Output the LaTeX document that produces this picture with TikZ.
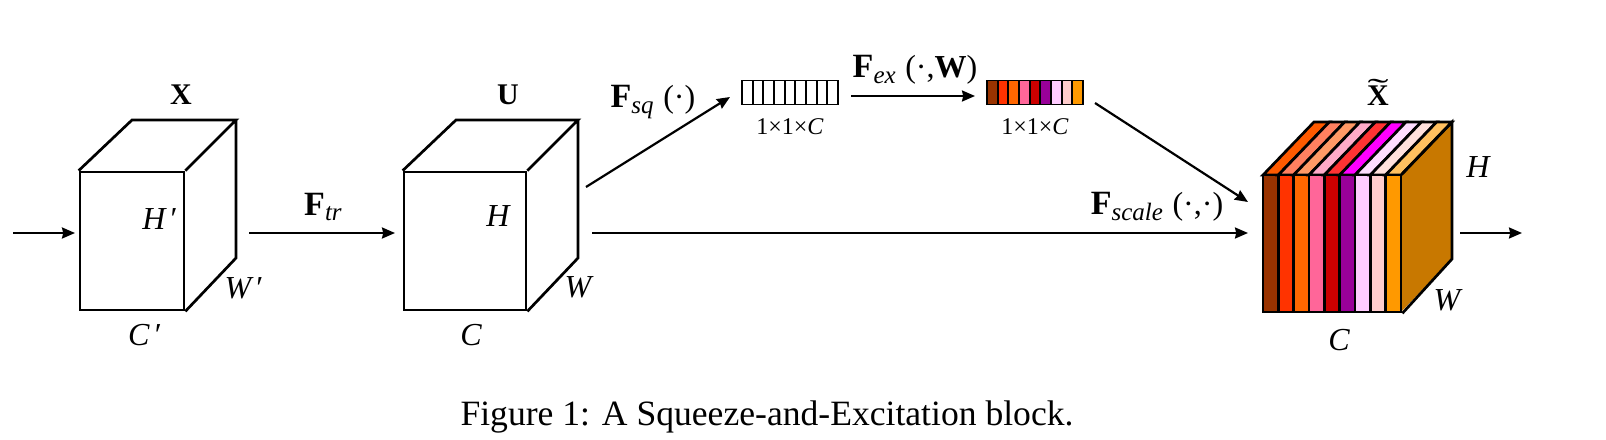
\documentclass[tikz,border=0pt]{standalone}
\usepackage{fontspec}
\setmainfont{Liberation Serif}
\usetikzlibrary{arrows.meta,positioning,calc}
\definecolor{seBrown}{HTML}{993300}
\definecolor{seRed}{HTML}{FF3300}
\definecolor{seOrange}{HTML}{FF6600}
\definecolor{sePink}{HTML}{FF6699}
\definecolor{seCrimson}{HTML}{CC0000}
\definecolor{sePurple}{HTML}{990099}
\definecolor{seLilac}{HTML}{FFCCFF}
\definecolor{seBlush}{HTML}{FFCCCC}
\definecolor{seAmber}{HTML}{FF9900}
\definecolor{topOne}{HTML}{FF5A00}
\definecolor{topTwo}{HTML}{FF8060}
\definecolor{topThree}{HTML}{FF9966}
\definecolor{topFour}{HTML}{FFAAC8}
\definecolor{topFive}{HTML}{FF3333}
\definecolor{topSix}{HTML}{FF00FF}
\definecolor{topSeven}{HTML}{FFDDFF}
\definecolor{topEight}{HTML}{FFE0DC}
\definecolor{topNine}{HTML}{FFC060}
\definecolor{seSide}{HTML}{C87800}
\newcommand{\fsub}[2]{{\fontsize{17}{20}\selectfont\textbf{F}}\raisebox{-0.4ex}{\fontsize{12.5}{14}\selectfont\textit{#1}}#2}
\tikzset{
  edgeline/.style={draw=black,line width=1.35pt,line join=miter},
  faceX/.style={edgeline,minimum width=52pt,minimum height=69pt,inner sep=0pt},
  faceU/.style={edgeline,minimum width=61pt,minimum height=69pt,inner sep=0pt},
  faceT/.style={edgeline,minimum width=69pt,minimum height=68.5pt,inner sep=0pt},
  cellbox/.style={draw=black,line width=0.9pt,minimum width=5.33pt,minimum height=12pt,inner sep=0pt},
  dimlabel/.style={font=\fontsize{16}{18}\selectfont\itshape,inner sep=0pt},
  tensorlabel/.style={font=\fontsize{15}{18}\selectfont\bfseries,inner sep=0pt},
  oplabel/.style={font=\fontsize{16}{18}\selectfont,inner sep=0pt},
  sizelabel/.style={font=\fontsize{12}{13}\selectfont,inner sep=0pt},
  flow/.style={->,line width=1.1pt}
}
\begin{document}
\begin{tikzpicture}[x=0.5pt,y=-0.5pt,>={Stealth[length=6.5pt,width=5.5pt,inset=0.6pt]}]
  \useasboundingbox (0,0) rectangle (1606,439);
  % first cube
  \node[faceX] (xface) at (132,241) {};
  \draw[edgeline] (xface.north west) -- (132,120) -- (236,120) -- (xface.north east)
    (236,120) -- (236,258) -- (xface.south east);
  \node[tensorlabel] (xname) at (181,95) {X};
  \node[dimlabel] (xh) at (160,219) {H\,\upshape′};
  \node[dimlabel] (xw) at (244,288) {W\,\upshape′};
  \node[dimlabel] (xc) at (145,335) {C\,\upshape′};
  % second cube
  \node[faceU] (uface) at (465,241) {};
  \draw[edgeline] (uface.north west) -- (456,120) -- (578,120) -- (uface.north east)
    (578,120) -- (578,258) -- (uface.south east);
  \node[tensorlabel] (uname) at (508,95) {U};
  \node[dimlabel] (uh) at (498,216) {H};
  \node[dimlabel] (uw) at (578,287) {W};
  \node[dimlabel] (uc) at (471,335) {C};
  % squeeze and excitation strips
  \foreach \i [count=\n from 0] in {1,...,9}
    \node[cellbox] (sq\i) at ({747.3+10.67*\n},92.5) {};
  \foreach \i/\c [count=\n from 0] in {1/seBrown,2/seRed,3/seOrange,4/sePink,5/seCrimson,6/sePurple,7/seLilac,8/seBlush,9/seAmber}
    \node[cellbox,fill=\c] (ex\i) at ({992.3+10.67*\n},92.5) {};
  \node[sizelabel] (sqsize) at (790,127) {1×1×\textit{C}};
  \node[sizelabel] (exsize) at (1035,127) {1×1×\textit{C}};
  % coloured cube
  \path[fill=seSide] (1401,175) -- (1452,122) -- (1452,259) -- (1401,312) -- cycle;
  \foreach \i/\c/\t [count=\n from 0] in {1/seBrown/topOne,2/seRed/topTwo,3/seOrange/topThree,4/sePink/topFour,5/seCrimson/topFive,6/sePurple/topSix,7/seLilac/topSeven,8/seBlush/topEight,9/seAmber/topNine}{
    \draw[edgeline,fill=\t] ({1263+15.33*\n},175) -- ({1314+15.33*\n},122) -- ({1329.33+15.33*\n},122) -- ({1278.33+15.33*\n},175) -- cycle;
    \draw[edgeline,fill=\c] ({1263+15.33*\n},175) rectangle ({1278.33+15.33*\n},312);
  }
  \node[faceT] (tface) at (1332,243.5) {};
  \draw[edgeline] (tface.north east) -- (1452,122) -- (1452,259) -- (tface.south east);
  \node[tensorlabel,anchor=base] (tname) at (1378,105) {\ooalign{\hfil\raisebox{0.19em}{\mdseries\scalebox{2.1}[1]{\symbol{"02DC}}}\hfil\cr X\cr}};
  \node[dimlabel] (th) at (1478,167) {H};
  \node[dimlabel] (tw) at (1447,300) {W};
  \node[dimlabel] (tc) at (1339,340) {C};
  % free ends of the arrows
  \coordinate (inA) at (13,233);
  \coordinate (inB) at (75,233);
  \coordinate (trA) at (249,233);
  \coordinate (trB) at (395,233);
  \coordinate (sqA) at (586,187);
  \coordinate (sqB) at (730,97);
  \coordinate (fxA) at (851,96);
  \coordinate (fxB) at (975,96);
  \coordinate (scA) at (1095,103);
  \coordinate (scB) at (1248,202);
  \coordinate (skA) at (592,233);
  \coordinate (skB) at (1248,233);
  \coordinate (outA) at (1460,233);
  \coordinate (outB) at (1522,233);
  \draw[flow] (inA) -- (inB);
  \draw[flow] (trA) -- (trB);
  \draw[flow] (sqA) -- (sqB);
  \draw[flow] (fxA) -- (fxB);
  \draw[flow] (scA) -- (scB);
  \draw[flow] (skA) -- (skB);
  \draw[flow] (outA) -- (outB);
  \node[oplabel] (ftr) at (323,207) {\fsub{tr}{}};
  \node[oplabel] (fsq) at (653,102) {\fsub{sq}{\hspace{0.3em}(·)}};
  \node[oplabel] (fex) at (915,70) {\fsub{ex}{\hspace{0.3em}(·,\textbf{W})}};
  \node[oplabel] (fscale) at (1157,207) {\fsub{scale}{\hspace{0.3em}(·,·)}};
  \node[font=\fontsize{17.8}{22}\selectfont,inner sep=0pt] (caption) at (767,417) {Figure 1: A Squeeze-and-Excitation block.};
\end{tikzpicture}
\end{document}
